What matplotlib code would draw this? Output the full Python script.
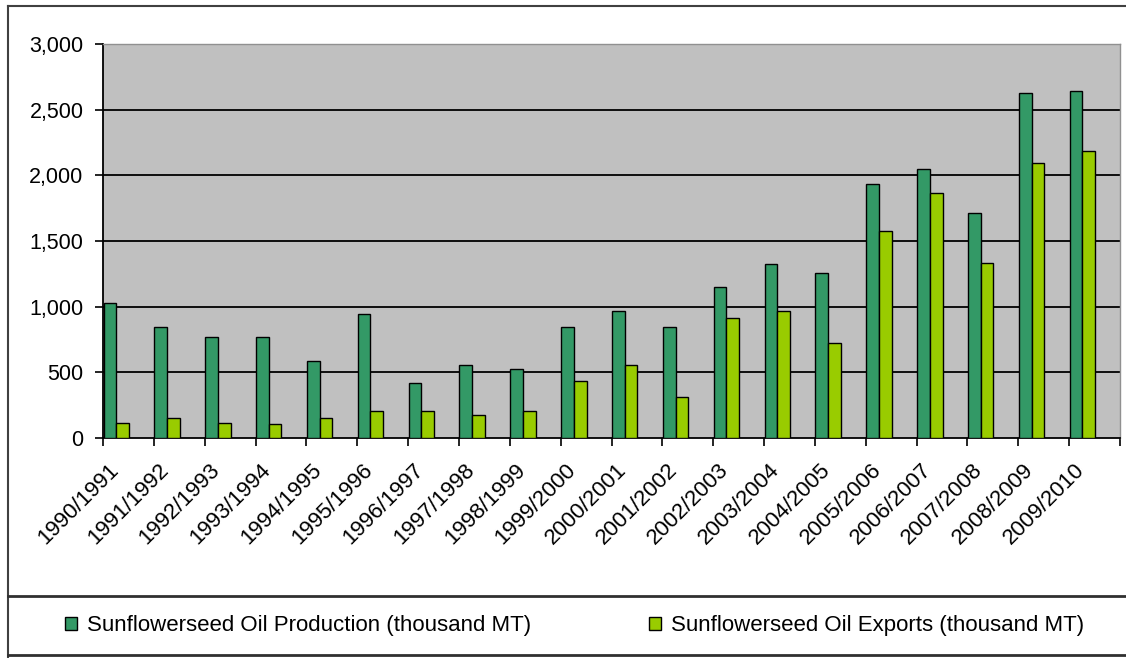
import matplotlib
matplotlib.use("Agg")
import matplotlib.pyplot as plt
from matplotlib.lines import Line2D
from matplotlib.patches import Patch
import numpy as np

plt.rcParams['font.family'] = ['Liberation Sans', 'DejaVu Sans']

seasons = ["1990/1991", "1991/1992", "1992/1993", "1993/1994", "1994/1995",
           "1995/1996", "1996/1997", "1997/1998", "1998/1999", "1999/2000",
           "2000/2001", "2001/2002", "2002/2003", "2003/2004", "2004/2005",
           "2005/2006", "2006/2007", "2007/2008", "2008/2009", "2009/2010"]
production = [1030, 848, 771, 771, 589, 942, 421, 558, 528, 848,
              969, 848, 1152, 1322, 1259, 1931, 2051, 1716, 2629, 2644]
exports = [112, 150, 117, 104, 150, 208, 208, 178, 208, 437,
           558, 315, 911, 969, 726, 1579, 1868, 1330, 2096, 2185]
series_names = ["Sunflowerseed Oil Production (thousand MT)",
                "Sunflowerseed Oil Exports (thousand MT)"]
y_ticks = [0, 500, 1000, 1500, 2000, 2500, 3000]

W, H = 1126, 658
fig = plt.figure(figsize=(W / 100, H / 100), dpi=100)
fig.patch.set_facecolor("white")

left, right, top, bottom = 103, 1120, 44, 438
ax = fig.add_axes([left / W, 1 - bottom / H, (right - left) / W, (bottom - top) / H])
ax.set_facecolor("#C0C0C0")

n = len(seasons)
idx = np.arange(n)
bw = 0.25
c_prod = "#339966"
c_exp = "#99CC00"
ax.bar(idx + 0.01, production, width=bw, align="edge", color=c_prod,
       edgecolor="black", linewidth=1.0, zorder=3)
ax.bar(idx + 0.01 + bw, exports, width=bw, align="edge", color=c_exp,
       edgecolor="black", linewidth=1.0, zorder=3)

ax.set_xlim(0, n)
ax.set_ylim(0, 3000)
ax.set_yticks(y_ticks)
ax.set_yticklabels([f"{v:,}" for v in y_ticks], fontsize=15.5)
for v in y_ticks[1:-1]:
    ax.axhline(v, color="black", linewidth=1.3, zorder=1)

# category boundaries as tick marks, labels near centers
ax.set_xticks(np.arange(n + 1), minor=True)
ax.set_xticks(idx + 0.24)
ax.set_xticklabels(seasons, rotation=45, ha="right", va="center",
                   rotation_mode="anchor", fontsize=16)
ax.tick_params(axis="x", which="major", length=0, pad=21)
ax.tick_params(axis="x", which="minor", length=6, width=1.2, color="black")
ax.tick_params(axis="y", length=6, width=1.2, pad=8)

for s in ["left", "bottom"]:
    ax.spines[s].set_color("black")
    ax.spines[s].set_linewidth(1.3)
for s in ["top", "right"]:
    ax.spines[s].set_color("#909090")
    ax.spines[s].set_linewidth(1.0)

# outer frame lines (figure pixel coords)
def hline(y, x0, x1, lw=1.5, color="#404040"):
    fig.add_artist(Line2D([x0 / W, x1 / W], [1 - y / H, 1 - y / H],
                          transform=fig.transFigure, color=color, linewidth=lw))

def vline(x, y0, y1, lw=1.5, color="#404040"):
    fig.add_artist(Line2D([x / W, x / W], [1 - y0 / H, 1 - y1 / H],
                          transform=fig.transFigure, color=color, linewidth=lw))

hline(6, 8, W)
vline(8, 6, H)
hline(596, 8, W, lw=2.0, color="#303030")
hline(655, 8, W, lw=2.0, color="#303030")

handles = [Patch(facecolor=c_prod, edgecolor="black", linewidth=1.0),
           Patch(facecolor=c_exp, edgecolor="black", linewidth=1.0)]
leg = fig.legend(handles, series_names, loc="center left",
                 bbox_to_anchor=(45 / W, 1 - 626 / H), ncol=2, frameon=False,
                 fontsize=16, handlelength=0.55, handleheight=0.55,
                 handletextpad=0.45, columnspacing=5.3)

fig.savefig("out.png", dpi=100)
